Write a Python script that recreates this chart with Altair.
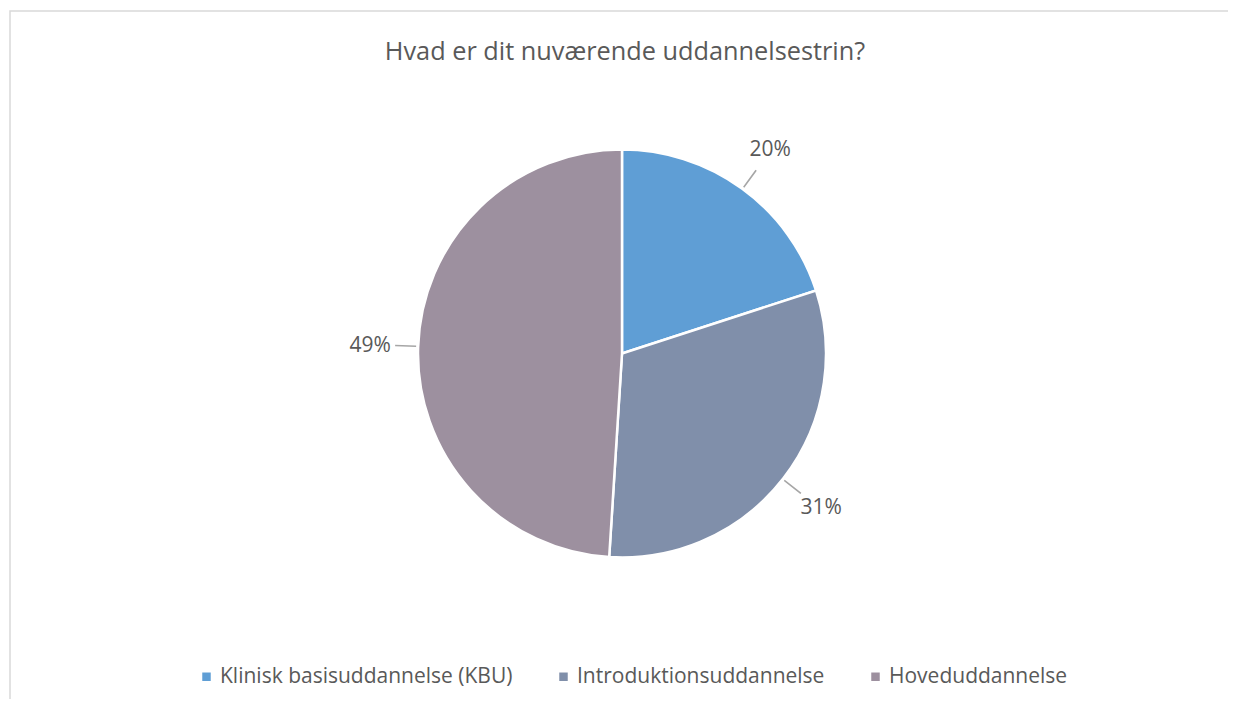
import altair as alt
import pandas as pd

categories = ["Klinisk basisuddannelse (KBU)", "Introduktionsuddannelse", "Hoveduddannelse"]
shares = [20, 31, 49]
labels = ["20%", "31%", "49%"]
colors = ["#5F9ED5", "#808FAA", "#9D909F"]
title_text = "Hvad er dit nuværende uddannelsestrin?"

df = pd.DataFrame({"category": categories, "share": shares, "label": labels,
                   "order": list(range(len(categories)))})

FONT = "Open Sans"
TXT = "#595959"
W, H = 1218, 688
CX, CY = 612, 342.5  # pie centre within the view

theta_scale = alt.Scale(domain=[0, 100])

frame = alt.Chart(pd.DataFrame({"f": [0]})).mark_rect(
    fill="white", stroke="#D9D9D9", strokeWidth=1.5
).encode(x=alt.value(0), x2=alt.value(W + 10), y=alt.value(0), y2=alt.value(H + 10))

pie = alt.Chart(df).mark_arc(radius=204, stroke="white", strokeWidth=2.5).encode(
    theta=alt.Theta("share:Q", stack=True, scale=theta_scale),
    order=alt.Order("order:Q"),
    x=alt.value(CX), y=alt.value(CY),
    color=alt.Color("category:N", scale=alt.Scale(domain=categories, range=colors),
                    legend=alt.Legend(title=None, orient="none", direction="horizontal",
                                      legendX=186, legendY=655, symbolType="square",
                                      symbolSize=72, symbolStrokeWidth=0,
                                      labelFont=FONT, labelFontSize=21, labelColor=TXT,
                                      labelLimit=0, columnPadding=40, labelOffset=3)),
)

text = alt.Chart(df).mark_text(radius=252, fontSize=21, font=FONT, color=TXT).encode(
    theta=alt.Theta("share:Q", stack=True, scale=theta_scale),
    order=alt.Order("order:Q"),
    x=alt.value(CX), y=alt.value(CY),
    detail="category:N",
    text="label:N",
)

leaders = alt.Chart(df).transform_window(
    cum="sum(share)", sort=[alt.SortField("order")]
).transform_calculate(
    mid="datum.cum - datum.share / 2", mid2="datum.cum - datum.share / 2 + 0.12"
).mark_arc(radius=206, radius2=227, color="#A6A6A6").encode(
    theta=alt.Theta("mid:Q", scale=theta_scale),
    theta2="mid2:Q",
    x=alt.value(CX), y=alt.value(CY),
)

chart = alt.layer(frame, pie, leaders, text).properties(
    width=W, height=H,
    title=alt.TitleParams(title_text, font=FONT, fontSize=25.3, color=TXT, fontWeight="normal",
                          anchor="middle", offset=-55, dx=6),
    autosize=alt.AutoSizeParams(type="none"),
    padding={"left": 2, "top": 3, "right": 0, "bottom": 0},
).configure_view(stroke=None).configure(background="white")

chart.save("out.html", embed_options={"renderer": "svg", "actions": False})
